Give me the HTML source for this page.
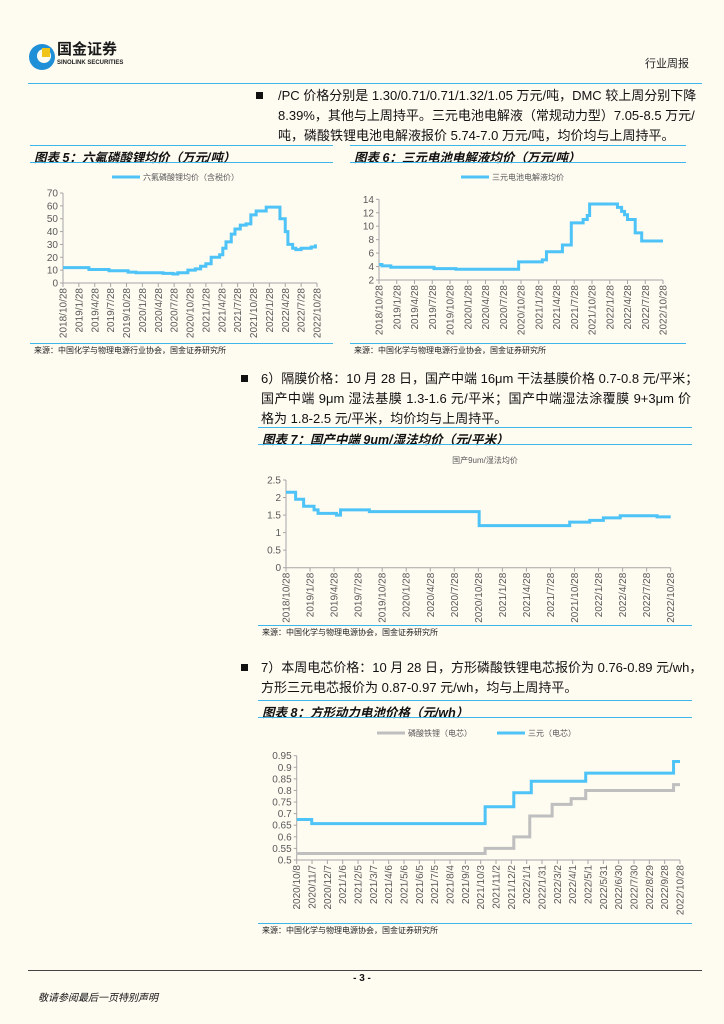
<!DOCTYPE html>
<html><head><meta charset="utf-8">
<style>
body{margin:0;background:#fefbf1;}
#page{position:relative;width:724px;height:1024px;overflow:hidden;background:#fefbf1;font-family:"Liberation Sans","Noto Sans CJK SC",sans-serif;color:#111;}
.abs{position:absolute;}
.ln{position:absolute;font-size:13px;line-height:20px;white-space:nowrap;}
.j{text-align:justify;text-align-last:justify;}
.hl{position:absolute;height:0;border-top:1.5px solid #3fb6ea;}
.ttl{position:absolute;font-size:12.5px;font-weight:bold;font-style:italic;white-space:nowrap;}
.src{position:absolute;font-size:8px;color:#222;white-space:nowrap;}
.bul{position:absolute;width:7px;height:7px;background:#111;}
svg text{font-family:"Liberation Sans","Noto Sans CJK SC",sans-serif;}
</style></head><body>
<div id="page">
<svg class="abs" style="left:26px;top:38px" width="40" height="36">
<circle cx="16" cy="19" r="13" fill="#1f8fd8"/><circle cx="18" cy="18" r="7" fill="#fefbf1"/><rect x="16" y="10" width="8" height="9" fill="#f0c419"/></svg>
<div class="abs" style="left:57px;top:41px;font-size:15px;line-height:18px;font-weight:bold;color:#1a1a1a">国金证券</div>
<div class="abs" style="left:57px;top:60px;font-size:6px;line-height:7px;font-weight:bold;color:#222">SINOLINK SECURITIES</div>
<div class="abs" style="left:645px;top:55px;font-size:11px;color:#222">行业周报</div>
<div class="hl" style="left:28px;top:83px;width:674px"></div>

<div class="bul" style="left:256px;top:92px"></div>
<div class="ln j" style="left:278px;top:86px;width:412px">/PC 价格分别是 1.30/0.71/0.71/1.32/1.05 万元/吨，DMC 较上周分别下降</div>
<div class="ln j" style="left:278px;top:106px;width:412px">8.39%，其他与上周持平。三元电池电解液（常规动力型）7.05-8.5 万元/</div>
<div class="ln" style="left:278px;top:126px">吨，磷酸铁锂电池电解液报价 5.74-7.0 万元/吨，均价均与上周持平。</div>

<div class="hl" style="left:30px;top:145px;width:303px"></div>
<div class="ttl" style="left:34px;top:147px">图表 5：六氟磷酸锂均价（万元/吨）</div>
<div class="hl" style="left:30px;top:162px;width:303px"></div>
<div class="hl" style="left:350px;top:145px;width:336px"></div>
<div class="ttl" style="left:354px;top:147px">图表 6：三元电池电解液均价（万元/吨）</div>
<div class="hl" style="left:350px;top:162px;width:336px"></div>
<svg id="c5" class="abs" style="left:30px;top:163px" width="303" height="180"></svg>
<svg id="c6" class="abs" style="left:350px;top:163px" width="336" height="180"></svg>
<div class="hl" style="left:30px;top:343px;width:303px"></div>
<div class="src" style="left:34px;top:345px">来源：中国化学与物理电源行业协会，国金证券研究所</div>
<div class="hl" style="left:350px;top:343px;width:336px"></div>
<div class="src" style="left:354px;top:345px">来源：中国化学与物理电源行业协会，国金证券研究所</div>

<div class="bul" style="left:241px;top:375px"></div>
<div class="ln j" style="left:261px;top:369px;width:430px">6）隔膜价格：10 月 28 日，国产中端 16μm 干法基膜价格 0.7-0.8 元/平米；</div>
<div class="ln j" style="left:261px;top:389px;width:430px">国产中端 9μm 湿法基膜 1.3-1.6 元/平米；国产中端湿法涂覆膜 9+3μm 价</div>
<div class="ln" style="left:261px;top:409px">格为 1.8-2.5 元/平米，均价均与上周持平。</div>

<div class="hl" style="left:258px;top:427px;width:434px"></div>
<div class="ttl" style="left:262px;top:429px">图表 7：国产中端 9um/湿法均价（元/平米）</div>
<div class="hl" style="left:258px;top:444px;width:434px"></div>
<svg id="c7" class="abs" style="left:258px;top:445px" width="434" height="180"></svg>
<div class="hl" style="left:258px;top:625px;width:434px"></div>
<div class="src" style="left:262px;top:627px">来源：中国化学与物理电源协会，国金证券研究所</div>

<div class="bul" style="left:241px;top:664px"></div>
<div class="ln j" style="left:261px;top:658px;width:430px">7）本周电芯价格：10 月 28 日，方形磷酸铁锂电芯报价为 0.76-0.89 元/wh，</div>
<div class="ln" style="left:261px;top:678px">方形三元电芯报价为 0.87-0.97 元/wh，均与上周持平。</div>

<div class="hl" style="left:258px;top:700px;width:434px"></div>
<div class="ttl" style="left:262px;top:702px">图表 8：方形动力电池价格（元/wh）</div>
<div class="hl" style="left:258px;top:717px;width:434px"></div>
<svg id="c8" class="abs" style="left:258px;top:718px" width="434" height="205"></svg>
<div class="hl" style="left:258px;top:923px;width:434px"></div>
<div class="src" style="left:262px;top:925px">来源：中国化学与物理电源协会，国金证券研究所</div>

<div class="abs" style="left:28px;top:970px;width:674px;border-top:1px solid #444"></div>
<div class="abs" style="left:0;top:973px;width:724px;text-align:center;font-size:10px;font-weight:bold">- 3 -</div>
<div class="abs" style="left:38px;top:989px;font-size:10px;font-style:italic">敬请参阅最后一页特别声明</div>
</div>
<script>
const monthLabels=["2018/10/28","2019/1/28","2019/4/28","2019/7/28","2019/10/28","2020/1/28","2020/4/28","2020/7/28","2020/10/28","2021/1/28","2021/4/28","2021/7/28","2021/10/28","2022/1/28","2022/4/28","2022/7/28","2022/10/28"];
const c5X=[0,4.9,8.7,12.3,13.8,18.9,20.8,21.7,23.6,25,26,27,28,29.6,30.2,30.8,31.8,32.5,33.5,34.6,35.5,36.5,38.4,40,41,42,42.5,43.4,44,45,46.9,47.7];
const c5Y=[12,10.5,9.5,8.5,8,7.5,7,8,10,11,13,15,20,22,27,32,38,42,45,46,53,56,59,59,50,40,30,27,26,27,28,30];
const c5Ticks=[0,10,20,30,40,50,60,70];
const c6X=[0,0.5,2,9.3,13,23.6,27.6,28.3,31,32.5,34.5,35.2,35.6,40.3,41,41.5,42,43.3,44.4,48];
const c6Y=[4.3,4.1,3.9,3.7,3.6,4.7,5,6.2,7.2,10.5,11,11.6,13.3,12.8,12.2,11.7,11,9,7.8,7.8];
const c6Ticks=[2,4,6,8,10,12,14];
const c7X=[0,1.2,2.2,3.5,4,6.3,6.8,10.4,24.1,35.4,37.9,39.6,41.7,46.3,48];
const c7Y=[2.15,1.95,1.75,1.65,1.55,1.5,1.65,1.6,1.2,1.3,1.35,1.42,1.48,1.45,1.45];
const c7Ticks=[0,0.5,1,1.5,2,2.5];
const c8Labels=["2020/10/8","2020/11/7","2020/12/7","2021/1/6","2021/2/5","2021/3/7","2021/4/6","2021/5/6","2021/6/5","2021/7/5","2021/8/4","2021/9/3","2021/10/3","2021/11/2","2021/12/2","2022/1/1","2022/1/31","2022/3/2","2022/4/1","2022/5/1","2022/5/31","2022/6/30","2022/7/30","2022/8/29","2022/9/28","2022/10/28"];
const c8BlueX=[0,0.98,12.29,14.16,15.3,18.85,24.58,25];
const c8BlueY=[0.675,0.657,0.73,0.79,0.84,0.875,0.925,0.925];
const c8GrayX=[0,12.29,14.16,15.2,16.66,17.9,18.85,24.58,25];
const c8GrayY=[0.528,0.55,0.6,0.69,0.74,0.765,0.8,0.825,0.825];
const c8Ticks=[0.5,0.55,0.6,0.65,0.7,0.75,0.8,0.85,0.9,0.95];

const NS="http://www.w3.org/2000/svg";
function mk(svg,tag,attrs){const e=document.createElementNS(NS,tag);for(const k in attrs)e.setAttribute(k,attrs[k]);svg.appendChild(e);return e;}
function chart(id,o){
  const svg=document.getElementById(id);
  const sx=v=>o.x0+(v-o.xmin)/(o.xmax-o.xmin)*(o.x1-o.x0);
  const sy=v=>o.y0-(v-o.ymin)/(o.ymax-o.ymin)*(o.y0-o.y1);
  mk(svg,'line',{x1:o.x0,y1:o.y1,x2:o.x0,y2:o.y0,stroke:'#a6a6a6','stroke-width':1});
  mk(svg,'line',{x1:o.x0,y1:o.y0,x2:o.x1,y2:o.y0,stroke:'#a6a6a6','stroke-width':1});
  o.ticks.forEach(t=>{
    mk(svg,'line',{x1:o.x0-3,y1:sy(t),x2:o.x0,y2:sy(t),stroke:'#a6a6a6'});
    const tx=mk(svg,'text',{x:o.x0-5,y:sy(t)+3.5,'text-anchor':'end','font-size':10,fill:'#595959'});
    tx.textContent=o.fmt?o.fmt(t):t;
    
    
  });
  o.labels.forEach((l,i)=>{
    const x=sx(i*o.lstep);
    mk(svg,'line',{x1:x,y1:o.y0,x2:x,y2:o.y0+4,stroke:'#a6a6a6'});
    const tx=mk(svg,'text',{x:0,y:0,'text-anchor':'end','font-size':10,fill:'#595959',transform:`translate(${x+3.5},${o.y0+5}) rotate(-90)`});
    tx.textContent=l;
    
    
  });
  o.series.forEach(s=>{
    let d='';
    s.x.forEach((xv,i)=>{
      const px=sx(xv),py=sy(s.y[i]);
      if(i===0)d+=`M${px},${py}`;else d+=`L${px},${sy(s.y[i-1])}L${px},${py}`;
    });
    const p=mk(svg,'path',{d:d,fill:'none',stroke:s.c,'stroke-width':3});
    
    
  });
  (o.legend||[]).forEach(g=>{
    if(g.c)mk(svg,'line',{x1:g.x,y1:g.y-3,x2:g.x+28,y2:g.y-3,stroke:g.c,'stroke-width':3});
    const t=mk(svg,'text',{x:g.c?g.x+31:g.x,y:g.y,'font-size':8,fill:'#595959','text-anchor':g.c?'start':'middle'});
    t.textContent=g.t;
    
    
  });
}
chart('c5',{x0:33,x1:287,y0:120,y1:30,xmin:0,xmax:48,ymin:0,ymax:70,ticks:c5Ticks,labels:monthLabels,lstep:3,
  series:[{x:c5X,y:c5Y,c:'#4dc3f7',name:'lipf6-price-line'}],legend:[{x:82,y:17,c:'#4dc3f7',t:'六氟磷酸锂均价（含税价）'}]});
chart('c6',{x0:29,x1:313,y0:117,y1:36.3,xmin:0,xmax:48,ymin:2,ymax:14,ticks:c6Ticks,labels:monthLabels,lstep:3,
  series:[{x:c6X,y:c6Y,c:'#4dc3f7',name:'electrolyte-price-line'}],legend:[{x:111,y:17,c:'#4dc3f7',t:'三元电池电解液均价'}]});
chart('c7',{x0:28,x1:412.7,y0:122.7,y1:35,xmin:0,xmax:48,ymin:0,ymax:2.5,ticks:c7Ticks,labels:monthLabels,lstep:3,
  series:[{x:c7X,y:c7Y,c:'#4dc3f7',name:'separator-price-line'}],legend:[{x:227,y:18,t:'国产9um/湿法均价'}]});
chart('c8',{x0:38.7,x1:422,y0:142,y1:37.7,xmin:0,xmax:25,ymin:0.5,ymax:0.95,ticks:c8Ticks,labels:c8Labels,lstep:1,
  fmt:t=>String(+t.toFixed(2)),
  series:[{x:c8GrayX,y:c8GrayY,c:'#bfbfbf',name:'lfp-cell-line'},{x:c8BlueX,y:c8BlueY,c:'#4dc3f7',name:'ncm-cell-line'}],
  legend:[{x:119,y:18,c:'#bfbfbf',t:'磷酸铁锂（电芯）'},{x:239,y:18,c:'#4dc3f7',t:'三元（电芯）'}]});
</script>
</body></html>
